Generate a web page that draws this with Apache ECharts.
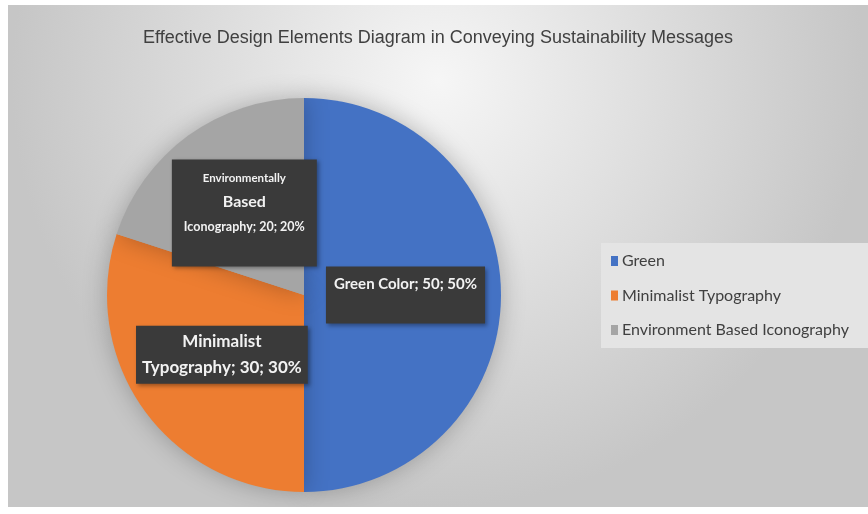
<!DOCTYPE html>
<html>
<head>
<meta charset="utf-8">
<script src="https://cdn.jsdelivr.net/npm/echarts@6/dist/echarts.min.js"></script>
<style>
html,body{margin:0;padding:0;background:#fff;}
#c{position:absolute;left:8px;top:5px;width:860px;height:502px;}
</style>
</head>
<body>
<div id="c"></div>
<script>
var titleText = 'Effective Design Elements Diagram in Conveying Sustainability Messages';
var categories = ['Green', 'Minimalist Typography', 'Environment Based Iconography'];
var labelNames = ['Green Color', 'Minimalist Typography', 'Environmentally Based Iconography'];
var values = [50, 30, 20];
var colors = ['#4472C4', '#ED7D31', '#A5A5A5'];

var font = 'Lato, "Open Sans", sans-serif';
var boxBase = {
  backgroundColor: '#3a3a3a',
  color: '#f2f2f2',
  fontFamily: font,
  fontWeight: 'bold',
  shadowColor: 'rgba(0,0,0,0.35)',
  shadowBlur: 4,
  shadowOffsetX: 2,
  shadowOffsetY: 2
};
function words(s){ return s.split(' '); }
function tail(p){ return '; ' + p.value + '; ' + Math.round(p.percent) + '%'; }
var labelStyles = [
  Object.assign({}, boxBase, {
    padding: [5, 8, 5, 8],
    formatter: function (p) { return '{t|' + labelNames[p.dataIndex] + tail(p) + '}\n{e| }'; },
    rich: {
      t: { fontSize: 15, lineHeight: 26, color: '#f2f2f2', fontFamily: font, fontWeight: 'bold' },
      e: { fontSize: 15, lineHeight: 21 }
    }
  }),
  Object.assign({}, boxBase, {
    fontSize: 17, lineHeight: 26,
    padding: [3, 6, 3, 6],
    formatter: function (p) {
      var w = words(labelNames[p.dataIndex]);
      return w[0] + '\n' + w.slice(1).join(' ') + tail(p);
    }
  }),
  Object.assign({}, boxBase, {
    padding: [9, 12, 26, 12],
    formatter: function (p) {
      var w = words(labelNames[p.dataIndex]);
      return '{a|' + w[0] + '}\n{b|' + w[1] + '}\n{c|' + w.slice(2).join(' ') + tail(p) + '}';
    },
    rich: {
      a: { fontSize: 11.5, lineHeight: 20, color: '#f2f2f2', fontFamily: font, fontWeight: 'bold' },
      b: { fontSize: 16, lineHeight: 26, color: '#f2f2f2', fontFamily: font, fontWeight: 'bold' },
      c: { fontSize: 12.5, lineHeight: 26, color: '#f2f2f2', fontFamily: font, fontWeight: 'bold' }
    }
  })
];

var data = categories.map(function (n, i) {
  return {
    name: n,
    value: values[i],
    itemStyle: { color: colors[i] },
    label: labelStyles[i]
  };
});

var chart = echarts.init(document.getElementById('c'));
chart.setOption({
  animation: false,
  backgroundColor: {
    type: 'radial', x: 0.5, y: 0.15, r: 0.85,
    colorStops: [{ offset: 0, color: '#f6f6f6' }, { offset: 1, color: '#c6c6c6' }]
  },
  title: {
    text: titleText,
    left: 'center',
    top: 19,
    textStyle: { fontFamily: '"Liberation Sans", Arial, sans-serif', fontSize: 18, fontWeight: 'normal', color: '#404040' }
  },
  legend: {
    orient: 'vertical',
    left: 593,
    top: 238,
    data: categories,
    icon: 'rect',
    itemWidth: 7,
    itemHeight: 10,
    itemGap: 18.5,
    padding: [10, 20, 10, 10],
    backgroundColor: '#e4e4e4',
    textStyle: { fontFamily: font, fontSize: 16, color: '#404040', padding: [0, 0, 0, -1] }
  },
  series: [{
    type: 'pie',
    center: [296, 290],
    radius: 197,
    startAngle: 90,
    clockwise: true,
    data: data,
    label: { show: true, position: 'inside' },
    labelLine: { show: false },
    itemStyle: { shadowBlur: 25, shadowColor: 'rgba(0,0,0,0.25)' },
    emphasis: { disabled: true }
  }]
});
</script>
</body>
</html>
